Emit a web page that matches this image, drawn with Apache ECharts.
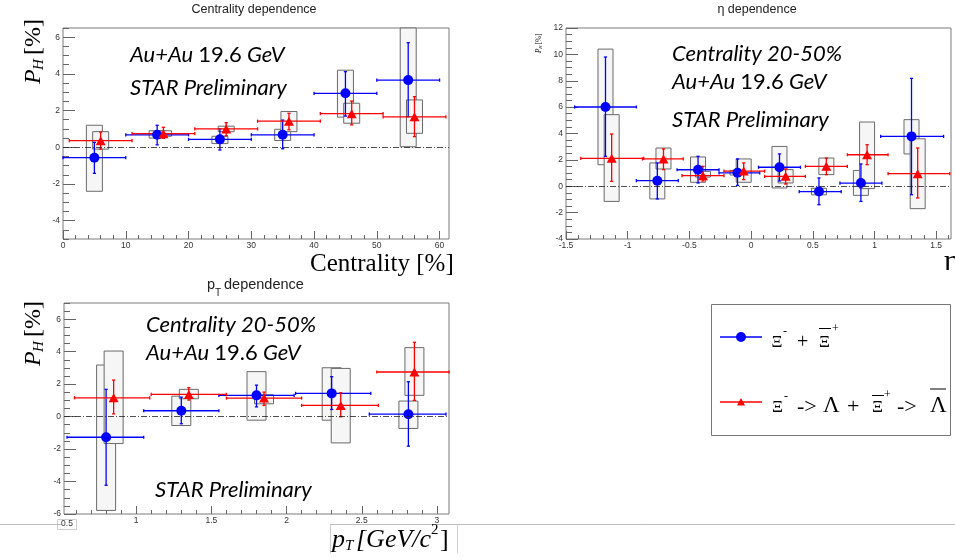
<!DOCTYPE html>
<html>
<head>
<meta charset="utf-8">
<script src="https://cdn.jsdelivr.net/npm/echarts@6/dist/echarts.min.js"></script>
<style>
    html, body { margin: 0; padding: 0; background: #fff; }
    #chart { width: 955px; height: 560px; }
</style>
</head>
<body>
<div id="chart"></div>
<script>
// 每行: [x, y, x下限, x上限, 统计误差下限, 统计误差上限, 系统误差下限, 系统误差上限]
var centXi = [
    [5, -0.57, 0, 10, -1.42, 0.27, -2.4, 1.2],
    [15, 0.68, 10, 20, 0.13, 1.2, 0.5, 0.9],
    [25, 0.43, 20, 30, -0.15, 1.0, 0.2, 0.6],
    [35, 0.68, 30, 40, -0.08, 1.48, 0.37, 0.98],
    [45, 2.94, 40, 50, 1.7, 4.12, 1.64, 4.2],
    [55, 3.66, 50, 60, 1.67, 5.7, 0.03, 6.5]
];
var centXiLambda = [
    [6, 0.36, 1, 11, -0.1, 0.83, -0.1, 0.85],
    [16, 0.74, 11, 21, 0.49, 1.09, 0.6, 0.9],
    [26, 1.0, 21, 31, 0.63, 1.34, 0.85, 1.15],
    [36, 1.42, 31, 41, 0.95, 1.85, 0.85, 1.95],
    [46, 1.83, 41, 51, 1.22, 2.52, 1.31, 2.4],
    [56, 1.66, 51, 61, 0.58, 2.76, 0.76, 2.58]
];
var etaXi = [
    [-1.18, 6.01, -1.43, -0.93, 2.27, 9.8, 1.63, 10.4],
    [-0.76, 0.42, -0.93, -0.59, -0.96, 1.77, -0.96, 1.77],
    [-0.43, 1.25, -0.6, -0.26, 0.25, 2.27, 0.3, 2.22],
    [-0.11, 1.02, -0.26, 0.07, 0.06, 2.07, 0.85, 1.2],
    [0.23, 1.44, 0.06, 0.4, 0.4, 2.45, -0.13, 3.02],
    [0.55, -0.4, 0.39, 0.73, -1.4, 0.63, -0.65, -0.15],
    [0.89, 0.24, 0.72, 1.06, -1.15, 1.69, -0.69, 1.2],
    [1.3, 3.78, 1.05, 1.56, -0.64, 8.18, 2.45, 5.05]
];
var etaXiLambda = [
    [-1.13, 2.12, -1.38, -0.87, 0.37, 3.96, -1.15, 5.43],
    [-0.71, 2.07, -0.88, -0.55, 1.26, 2.83, 1.31, 2.9],
    [-0.39, 0.8, -0.56, -0.22, 0.4, 1.51, 0.7, 1.13],
    [-0.06, 1.15, -0.22, 0.11, 0.5, 1.77, 0.3, 2.07],
    [0.28, 0.75, 0.11, 0.44, 0.17, 1.31, 0.25, 1.26],
    [0.61, 1.51, 0.44, 0.78, 0.88, 2.14, 0.88, 2.14],
    [0.94, 2.39, 0.78, 1.11, 1.64, 3.15, -0.18, 4.87],
    [1.35, 0.95, 1.11, 1.61, -0.89, 2.9, -1.7, 3.6]
];
var ptXi = [
    [0.8, -1.27, 0.54, 1.05, -4.23, 1.68, -5.78, 3.18],
    [1.3, 0.36, 1.05, 1.55, -0.44, 1.2, -0.55, 1.26],
    [1.8, 1.31, 1.55, 2.05, 0.6, 1.94, -0.22, 2.77],
    [2.3, 1.43, 2.06, 2.56, 0.44, 2.46, -0.22, 3.01],
    [2.81, 0.15, 2.55, 3.06, -1.82, 2.15, -0.73, 0.96]
];
var ptXiLambda = [
    [0.85, 1.16, 0.59, 1.09, 0.17, 2.25, -1.66, 4.04],
    [1.35, 1.37, 1.1, 1.6, 1.02, 1.78, 1.1, 1.68],
    [1.85, 1.14, 1.6, 2.1, 0.69, 1.51, 0.79, 1.35],
    [2.36, 0.69, 2.1, 2.61, -0.01, 1.47, -1.62, 2.97],
    [2.85, 2.75, 2.6, 3.08, 1.0, 4.58, 1.31, 4.25]
];

// 刻度标签
var centXTicks = [0, 10, 20, 30, 40, 50, 60];
var centYTicks = [-4, -2, 0, 2, 4, 6];
var etaXTicks = [-1.5, -1, -0.5, 0, 0.5, 1, 1.5];
var etaYTicks = [-4, -2, 0, 2, 4, 6, 8, 10, 12];
var ptXTicks = [1, 1.5, 2, 2.5, 3];
var ptYTicks = [-6, -4, -2, 0, 2, 4, 6];

var BLUE = '#0000ff';
var RED = '#ff0000';
var TICK_FONT = 'Liberation Sans';
var SERIF = 'Liberation Serif';
var ANNO = 'Lato';

// 三个面板的布局
var panels = [
    { grid: { left: 63, top: 28, width: 386, height: 211 }, x: [0, 61.5, centXTicks, 2], y: [-5, 6.5, centYTicks, 0.5], boxHalf: 8, data: [centXi, centXiLambda] },
    { grid: { left: 566, top: 28, width: 385, height: 211 }, x: [-1.5, 1.62, etaXTicks, 0.1], y: [-4, 12, etaYTicks, 0.5], boxHalf: 7.5, data: [etaXi, etaXiLambda] },
    { grid: { left: 64, top: 303, width: 385, height: 211 }, x: [0.52, 3.08, ptXTicks, 0.1], y: [-6, 7, ptYTicks, 0.5], boxHalf: 9.5, data: [ptXi, ptXiLambda] }
];

// 次刻度位置
function minorTicks(min, max, step, majors) {
    var out = [];
    var start = Math.ceil(min / step - 1e-9);
    var end = Math.floor(max / step + 1e-9);
    for (var i = start; i <= end; i++) {
        var v = Math.round(i * step * 1000) / 1000;
        if (majors.indexOf(v) < 0) out.push(v);
    }
    return out;
}

// 每个方向两条轴: 主刻度带标签, 次刻度无标签
function axisPair(dim, g, def) {
    var pos = dim === 'x' ? 'bottom' : 'left';
    var majorLen = dim === 'x' ? 8 : 12;
    var tickStyle = { color: '#666', width: 1 };
    return [
        {
            type: 'value', gridIndex: g, min: def[0], max: def[1], position: pos,
            axisLine: { show: false, onZero: false },
            splitLine: { show: false },
            axisTick: { show: true, inside: true, length: majorLen, customValues: def[2], lineStyle: tickStyle },
            axisLabel: { customValues: def[2], color: '#333', fontSize: 8.5, fontFamily: TICK_FONT, margin: dim === 'x' ? 2 : 3 }
        },
        {
            type: 'value', gridIndex: g, min: def[0], max: def[1], position: pos,
            axisLine: { show: false, onZero: false },
            splitLine: { show: false },
            axisLabel: { show: false },
            axisTick: { show: true, inside: true, length: majorLen / 2, customValues: minorTicks(def[0], def[1], def[3], def[2]), lineStyle: tickStyle }
        }
    ];
}

// 系统误差方框
function renderBox(halfW) {
    return function (params, api) {
        var lo = api.coord([api.value(0), api.value(6)]);
        var hi = api.coord([api.value(0), api.value(7)]);
        return {
            type: 'rect',
            shape: { x: lo[0] - halfW, y: hi[1], width: halfW * 2, height: lo[1] - hi[1] },
            style: { fill: '#f6f6f6', stroke: '#6a6a6a', lineWidth: 1 }
        };
    };
}

// 统计误差棒
function renderErr(color) {
    return function (params, api) {
        var x = api.value(0), y = api.value(1);
        var p = api.coord([x, y]);
        var xl = api.coord([api.value(2), y])[0];
        var xr = api.coord([api.value(3), y])[0];
        var yl = api.coord([x, api.value(4)])[1];
        var yh = api.coord([x, api.value(5)])[1];
        var st = { stroke: color, lineWidth: 1.3 };
        var cap = 1.6;
        function seg(x1, y1, x2, y2) {
            return { type: 'line', shape: { x1: x1, y1: y1, x2: x2, y2: y2 }, style: st };
        }
        return {
            type: 'group',
            children: [
                seg(xl, p[1], xr, p[1]),
                seg(xl, p[1] - cap, xl, p[1] + cap),
                seg(xr, p[1] - cap, xr, p[1] + cap),
                seg(p[0], yh, p[0], yl),
                seg(p[0] - cap, yh, p[0] + cap, yh),
                seg(p[0] - cap, yl, p[0] + cap, yl)
            ]
        };
    };
}

var grids = [], xAxes = [], yAxes = [], series = [];

panels.forEach(function (p, g) {
    grids.push(Object.assign({ show: true, borderColor: '#7a7a7a', borderWidth: 1, backgroundColor: '#fff' }, p.grid));
    xAxes = xAxes.concat(axisPair('x', g, p.x));
    yAxes = yAxes.concat(axisPair('y', g, p.y));
    var ai = g * 2;
    p.data.forEach(function (rows) {
        series.push({
            type: 'custom', xAxisIndex: ai, yAxisIndex: ai, silent: true,
            renderItem: renderBox(p.boxHalf), data: rows, encode: { x: 0, y: 1 }
        });
    });
    p.data.forEach(function (rows, k) {
        var color = k === 0 ? BLUE : RED;
        series.push({
            type: 'custom', xAxisIndex: ai, yAxisIndex: ai, silent: true,
            renderItem: renderErr(color), data: rows, encode: { x: 0, y: 1 }
        });
        var sc = {
            type: 'scatter', xAxisIndex: ai, yAxisIndex: ai, silent: true,
            symbol: k === 0 ? 'circle' : 'triangle',
            symbolSize: k === 0 ? 10 : [10, 9],
            itemStyle: { color: color, opacity: 1 },
            data: rows.map(function (r) { return [r[0], r[1]]; })
        };
        if (k === 0) {
            sc.markLine = {
                silent: true, symbol: ['none', 'none'], label: { show: false },
                lineStyle: { color: '#222', width: 0.8, type: [6, 2, 1, 2] },
                data: [{ yAxis: 0 }]
            };
        }
        series.push(sc);
    });
});

// 文字
function txt(x, y, text, font, extra) {
    return {
        type: 'text', x: x, y: y, silent: true, z: 100,
        style: Object.assign({ text: text, font: font, fill: '#000', align: 'left', verticalAlign: 'middle' }, extra || {})
    };
}
function line(x1, y1, x2, y2, color, w) {
    return { type: 'line', silent: true, z: 100, shape: { x1: x1, y1: y1, x2: x2, y2: y2 }, style: { stroke: color, lineWidth: w || 1 } };
}
var annoRich = { i: { font: 'italic 22px ' + ANNO }, n: { font: '22px ' + ANNO } };
function energy(x, y) {
    return txt(x, y, '{i|Au+Au} {n|19.6} {i|GeV}', 'italic 22px ' + ANNO, { rich: annoRich });
}
function italic(x, y, s) {
    return txt(x, y, s, 'italic 22px ' + ANNO);
}
// P_H [%] 纵轴标题 (旋转)
function phLabel(x, y, s) {
    return {
        type: 'group', x: x, y: y, rotation: Math.PI / 2, silent: true, z: 100,
        children: [
            { type: 'text', x: 0, y: 0, style: { text: 'P', font: 'italic ' + 24 * s + 'px ' + SERIF, fill: '#000', verticalAlign: 'middle' } },
            { type: 'text', x: 14 * s, y: 5 * s, style: { text: 'H', font: 'italic ' + 15 * s + 'px ' + SERIF, fill: '#000', verticalAlign: 'middle' } },
            { type: 'text', x: 29 * s, y: 0, style: { text: '[%]', font: 24 * s + 'px ' + SERIF, fill: '#000', verticalAlign: 'middle' } }
        ]
    };
}

var graphics = [
    // 幻灯片残留线条
    line(0, 524.5, 62, 524.5, '#bdbdbd'),
    line(330, 524.5, 955, 524.5, '#bdbdbd'),
    line(330.5, 524, 330.5, 553, '#cfcfcf'),
    line(457.5, 524, 457.5, 553, '#cfcfcf'),
    { type: 'rect', silent: true, z: 90, shape: { x: 57.5, y: 519.5, width: 19, height: 10 }, style: { fill: '#fff', stroke: '#cfcfcf', lineWidth: 1 } },
    txt(67, 524, '0.5', '8.5px ' + TICK_FONT, { align: 'center', fill: '#333' }),

    // 标题
    txt(254, 10, 'Centrality dependence', '12.5px ' + TICK_FONT, { align: 'center', fill: '#222' }),
    txt(757, 10, 'η dependence', '12.5px ' + TICK_FONT, { align: 'center', fill: '#222' }),
    txt(207, 285, 'p', '14.5px ' + TICK_FONT, { fill: '#222' }),
    txt(215, 293, 'T', '10px ' + TICK_FONT, { fill: '#222' }),
    txt(224, 285, 'dependence', '14.5px ' + TICK_FONT, { fill: '#222' }),

    // 面板注释
    energy(130, 54.5),
    italic(130, 87.5, 'STAR Preliminary'),
    italic(672, 53.5, 'Centrality 20-50%'),
    energy(672, 81.5),
    italic(672, 120, 'STAR Preliminary'),
    italic(146, 324.5, 'Centrality 20-50%'),
    energy(146, 352.5),
    italic(155, 489.5, 'STAR Preliminary'),

    // 坐标轴标题
    txt(310, 264, 'Centrality [%]', '25px ' + SERIF),
    txt(944, 262, 'η', '30px ' + SERIF),
    phLabel(34, 84, 1),
    phLabel(34, 366, 1),
    phLabel(539, 53, 0.3),
    txt(332, 540, 'p', 'italic 26px ' + SERIF),
    txt(345, 546, 'T', 'italic 15px ' + SERIF),
    txt(356, 540, '[GeV/c', 'italic 26px ' + SERIF),
    txt(431, 530, '2', '15px ' + SERIF),
    txt(440, 540, ']', '26px ' + SERIF),

    // 图例
    { type: 'rect', silent: true, z: 90, shape: { x: 711.5, y: 304.5, width: 239, height: 131 }, style: { fill: '#fff', stroke: '#777', lineWidth: 1 } },
    line(720, 337, 762, 337, BLUE, 1.3),
    { type: 'circle', silent: true, z: 100, shape: { cx: 741, cy: 337, r: 5 }, style: { fill: BLUE } },
    txt(771.5, 342.5, 'Ξ', '17px ' + SERIF),
    txt(783, 332, '-', '12px ' + SERIF),
    txt(797, 343, '+', '20px ' + SERIF),
    txt(819, 342.5, 'Ξ', '17px ' + SERIF),
    line(819, 328.5, 831, 328.5, '#000', 1),
    txt(832, 329, '+', '12px ' + SERIF),

    line(720, 402, 762, 402, RED, 1.3),
    { type: 'polygon', silent: true, z: 100, shape: { points: [[741, 398], [737, 405.5], [745, 405.5]] }, style: { fill: RED } },
    txt(772, 407.5, 'Ξ', '17px ' + SERIF),
    txt(784, 397, '-', '12px ' + SERIF),
    txt(797, 407, '->', '22px ' + SERIF),
    txt(823, 406, 'Λ', '23px ' + SERIF),
    txt(847, 407, '+', '22px ' + SERIF),
    txt(872, 407.5, 'Ξ', '17px ' + SERIF),
    line(872, 395.5, 884, 395.5, '#000', 1),
    txt(884, 395, '+', '12px ' + SERIF),
    txt(897, 407, '->', '22px ' + SERIF),
    txt(930, 406, 'Λ', '23px ' + SERIF),
    line(930, 389, 946, 389, '#000', 1)
];

var chart = echarts.init(document.getElementById('chart'));
chart.setOption({
    animation: false,
    backgroundColor: '#fff',
    grid: grids,
    xAxis: xAxes,
    yAxis: yAxes,
    series: series,
    graphic: graphics
});
</script>
</body>
</html>
